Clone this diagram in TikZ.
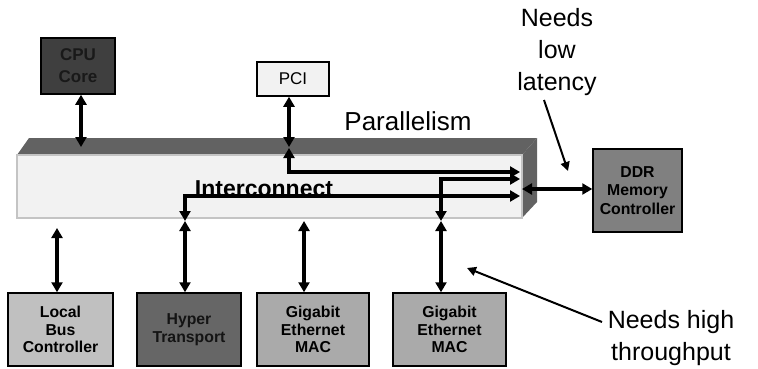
\documentclass[tikz,border=0pt]{standalone}
\usepackage{fontspec}
\setmainfont{Liberation Sans}
\usetikzlibrary{arrows.meta}
\definecolor{cpufill}{HTML}{3F3F3F}
\definecolor{htfill}{HTML}{666666}
\definecolor{ddrfill}{HTML}{808080}
\definecolor{lbfill}{HTML}{C0C0C0}
\definecolor{gefill}{HTML}{AAAAAA}
\definecolor{pcifill}{HTML}{F2F2F2}
\definecolor{facegray}{HTML}{626262}
\definecolor{frontfill}{HTML}{F2F2F2}
\definecolor{frontedge}{HTML}{C4C4C4}
\begin{document}
\begin{tikzpicture}[x=1pt,y=-1pt,
  box/.style={draw=black,line width=1.5pt,inner sep=0pt,align=center,font=\bfseries\fontsize{15.8}{17.5}\selectfont},
  link/.style={line width=3.2pt,{Triangle[length=10pt,width=11pt]}-{Triangle[length=10pt,width=11pt]}},
  note/.style={font=\fontsize{25}{32}\selectfont,align=center,inner sep=0pt},
  pointer/.style={line width=2pt,-{Triangle[length=9pt,width=9pt]}}
]
\useasboundingbox (0,0) rectangle (758,369);

% interconnect block (3D slab)
\fill[facegray] (17,155) -- (29,138) -- (537,138) -- (522,155) -- cycle;
\fill[facegray] (522,155) -- (537,138) -- (537,202) -- (522,218) -- cycle;
\node[draw=frontedge,line width=1.5pt,fill=frontfill,minimum width=505pt,minimum height=63pt,inner sep=0pt] (ic) at (269.5,186.5) {};
\node[font=\bfseries\fontsize{23}{26}\selectfont,inner sep=0pt] (iclabel) at (264,189) {Interconnect};

% boxes
\node[box,fill=cpufill,text=black!90,minimum width=74pt,minimum height=56pt,font=\bfseries\fontsize{17}{22}\selectfont] (cpu) at (78,66) {CPU\\Core};
\node[box,fill=pcifill,minimum width=72pt,minimum height=34pt,font=\fontsize{17}{20}\selectfont] (pci) at (293,79) {PCI};
\node[box,fill=ddrfill,minimum width=89pt,minimum height=83pt,font=\bfseries\fontsize{15.8}{18.5}\selectfont] (ddr) at (637.5,190.5) {DDR\\Memory\\Controller};
\node[box,fill=lbfill,minimum width=105pt,minimum height=73pt] (lbc) at (60.5,329.5) {Local\\Bus\\Controller};
\node[box,fill=htfill,text=black!92,minimum width=104pt,minimum height=73pt] (ht) at (189,329.5) {Hyper\\Transport};
\node[box,fill=gefill,minimum width=112pt,minimum height=73pt] (gem1) at (313,329.5) {Gigabit\\Ethernet\\MAC};
\node[box,fill=gefill,minimum width=113pt,minimum height=73pt] (gem2) at (449.5,329.5) {Gigabit\\Ethernet\\MAC};

% connector end points
\coordinate (cpuT) at (81,147);
\coordinate (pciT) at (289,147);
\coordinate (pciB) at (289,148);
\coordinate (r1) at (520,172);
\coordinate (r2) at (520,179);
\coordinate (r3) at (520,196);
\coordinate (g2T) at (441,221);
\coordinate (htT) at (185,221);
\coordinate (g1T) at (304,221);
\coordinate (lbT) at (57,228);
\coordinate (ddrL) at (522,189);

% connectors
\draw[link] (cpuT |- cpu.south) -- (cpuT);
\draw[link] (pciT |- pci.south) -- (pciT);
\draw[link] (pciB) |- (r1);
\draw[link] (g2T) |- (r2);
\draw[link] (htT) |- (r3);
\draw[link] (ddrL) -- (ddrL -| ddr.west);
\draw[link] (lbT) -- (lbT |- lbc.north);
\draw[link] (htT) -- (htT |- ht.north);
\draw[link] (g1T) -- (g1T |- gem1.north);
\draw[link] (g2T) -- (g2T |- gem2.north);

% annotations
\node[note,font=\fontsize{26}{30}\selectfont] (par) at (408,121) {Parallelism};
\node[note] (lat) at (557,52) {Needs\\low\\latency};
\node[note] (thr) at (671,338) {Needs high\\throughput};
\coordinate (latA) at (544,100);
\coordinate (latB) at (568,171);
\coordinate (thrA) at (602,322);
\coordinate (thrB) at (467,268);
\draw[pointer] (latA) -- (latB);
\draw[pointer] (thrA) -- (thrB);
\end{tikzpicture}
\end{document}
